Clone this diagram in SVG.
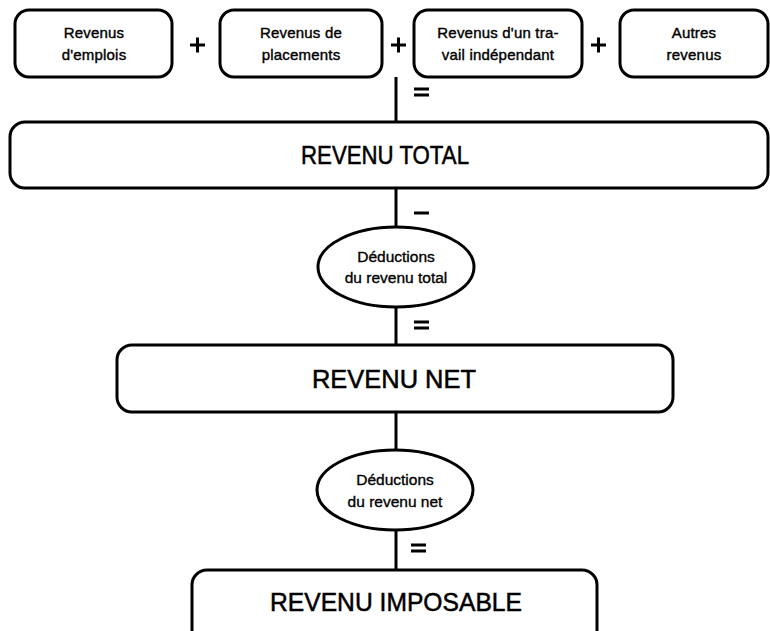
<svg xmlns="http://www.w3.org/2000/svg" width="770" height="631" viewBox="0 0 770 631">
  <style>
    .box { fill: #fff; stroke: #000; stroke-width: 3; }
    .wire { stroke: #000; stroke-width: 3; fill: none; }
    .op { stroke: #000; stroke-width: 3; fill: none; }
    text { font-family: "Liberation Sans", Arial, Helvetica, sans-serif; fill: #000; stroke: #000; text-anchor: middle; }
    .small { font-size: 15px; stroke-width: 0.4; letter-spacing: 0.2px; }
    .mid { font-size: 15.5px; stroke-width: 0.35; }
    .big { font-size: 25px; stroke-width: 0.5; }
  </style>
  <rect width="770" height="631" fill="#fff"/>

  <!-- vertical flow line and operator signs -->
  <g id="connectors">
    <line class="wire" x1="396" y1="77" x2="396" y2="122"/>
    <line class="wire" x1="396" y1="188" x2="396" y2="227"/>
    <line class="wire" x1="396" y1="307" x2="396" y2="345"/>
    <line class="wire" x1="396" y1="412" x2="396" y2="450"/>
    <line class="wire" x1="396" y1="530" x2="396" y2="570"/>
    <!-- plus signs between income sources -->
    <path class="op" d="M190 45 h15 M197.5 37.5 v15"/>
    <path class="op" d="M391 45 h15 M398.5 37.5 v15"/>
    <path class="op" d="M591 45 h15 M598.5 37.5 v15"/>
    <!-- equals / minus signs -->
    <path class="op" d="M414 89 h15 M414 95 h15"/>
    <path class="op" d="M414 213 h15"/>
    <path class="op" d="M414 322 h15 M414 328 h15"/>
    <path class="op" d="M411 545 h15 M411 551 h15"/>
  </g>

  <g id="revenus-emplois">
    <rect class="box" x="15" y="10" width="157" height="67" rx="14"/>
    <text class="small" x="94" y="38">Revenus</text>
    <text class="small" x="94" y="60">d'emplois</text>
  </g>
  <g id="revenus-placements">
    <rect class="box" x="220" y="10" width="162" height="67" rx="14"/>
    <text class="small" x="301" y="38">Revenus de</text>
    <text class="small" x="301" y="60">placements</text>
  </g>
  <g id="revenus-independant">
    <rect class="box" x="414" y="10" width="168" height="67" rx="14"/>
    <text class="small" x="498" y="38">Revenus d'un tra-</text>
    <text class="small" x="498" y="60">vail indépendant</text>
  </g>
  <g id="autres-revenus">
    <rect class="box" x="620" y="10" width="148" height="67" rx="14"/>
    <text class="small" x="694" y="38">Autres</text>
    <text class="small" x="694" y="60">revenus</text>
  </g>

  <g id="revenu-total">
    <rect class="box" x="10" y="122" width="758" height="66" rx="15"/>
    <text class="big" x="385" y="164" textLength="168" lengthAdjust="spacingAndGlyphs">REVENU TOTAL</text>
  </g>

  <g id="deductions-total">
    <ellipse class="box" cx="396" cy="267" rx="78" ry="40"/>
    <text class="mid" x="396" y="262">Déductions</text>
    <text class="mid" x="396" y="283">du revenu total</text>
  </g>

  <g id="revenu-net">
    <rect class="box" x="117" y="345" width="556" height="67" rx="15"/>
    <text class="big" x="394" y="388" textLength="164" lengthAdjust="spacingAndGlyphs">REVENU NET</text>
  </g>

  <g id="deductions-net">
    <ellipse class="box" cx="395" cy="490" rx="78" ry="40"/>
    <text class="mid" x="395" y="485">Déductions</text>
    <text class="mid" x="395" y="507">du revenu net</text>
  </g>

  <g id="revenu-imposable">
    <rect class="box" x="192" y="570" width="405" height="80" rx="15"/>
    <text class="big" x="396" y="611" textLength="252" lengthAdjust="spacingAndGlyphs">REVENU IMPOSABLE</text>
  </g>
</svg>
